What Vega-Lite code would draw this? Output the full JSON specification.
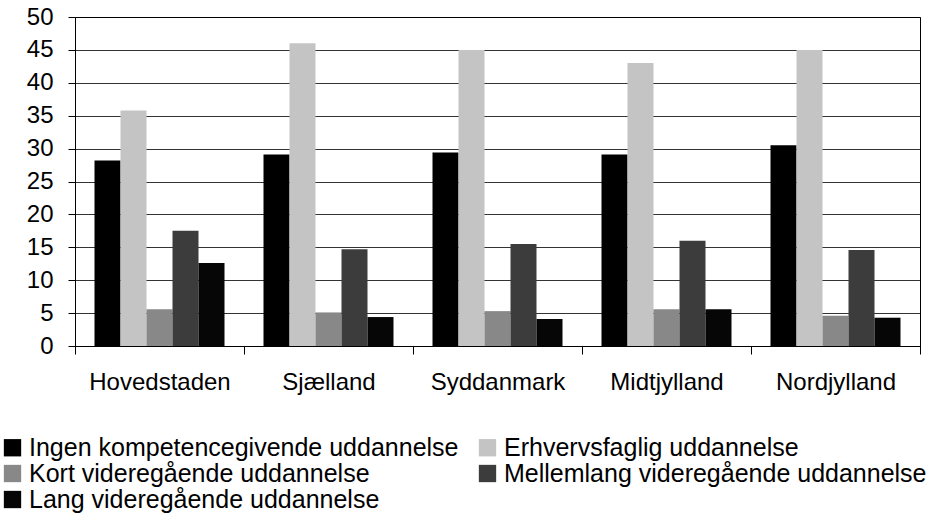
{
  "$schema": "https://vega.github.io/schema/vega-lite/v6.json",
  "width": 845,
  "height": 329,
  "autosize": {"type": "none"},
  "padding": {"left": 75, "top": 17, "right": 14, "bottom": 167},
  "background": "white",
  "data": {
    "values": [
      {"region": "Hovedstaden", "type": "Ingen kompetencegivende uddannelse", "value": 28.2},
      {"region": "Hovedstaden", "type": "Erhvervsfaglig uddannelse", "value": 35.8},
      {"region": "Hovedstaden", "type": "Kort videregående uddannelse", "value": 5.6},
      {"region": "Hovedstaden", "type": "Mellemlang videregående uddannelse", "value": 17.5},
      {"region": "Hovedstaden", "type": "Lang videregående uddannelse", "value": 12.6},
      {"region": "Sjælland", "type": "Ingen kompetencegivende uddannelse", "value": 29.1},
      {"region": "Sjælland", "type": "Erhvervsfaglig uddannelse", "value": 46.0},
      {"region": "Sjælland", "type": "Kort videregående uddannelse", "value": 5.1},
      {"region": "Sjælland", "type": "Mellemlang videregående uddannelse", "value": 14.7},
      {"region": "Sjælland", "type": "Lang videregående uddannelse", "value": 4.4},
      {"region": "Syddanmark", "type": "Ingen kompetencegivende uddannelse", "value": 29.4},
      {"region": "Syddanmark", "type": "Erhvervsfaglig uddannelse", "value": 45.0},
      {"region": "Syddanmark", "type": "Kort videregående uddannelse", "value": 5.3},
      {"region": "Syddanmark", "type": "Mellemlang videregående uddannelse", "value": 15.5},
      {"region": "Syddanmark", "type": "Lang videregående uddannelse", "value": 4.1},
      {"region": "Midtjylland", "type": "Ingen kompetencegivende uddannelse", "value": 29.1},
      {"region": "Midtjylland", "type": "Erhvervsfaglig uddannelse", "value": 43.0},
      {"region": "Midtjylland", "type": "Kort videregående uddannelse", "value": 5.6},
      {"region": "Midtjylland", "type": "Mellemlang videregående uddannelse", "value": 16.0},
      {"region": "Midtjylland", "type": "Lang videregående uddannelse", "value": 5.6},
      {"region": "Nordjylland", "type": "Ingen kompetencegivende uddannelse", "value": 30.5},
      {"region": "Nordjylland", "type": "Erhvervsfaglig uddannelse", "value": 45.0},
      {"region": "Nordjylland", "type": "Kort videregående uddannelse", "value": 4.6},
      {"region": "Nordjylland", "type": "Mellemlang videregående uddannelse", "value": 14.6},
      {"region": "Nordjylland", "type": "Lang videregående uddannelse", "value": 4.3}
    ]
  },
  "mark": {"type": "bar"},
  "encoding": {
    "x": {
      "field": "region",
      "type": "nominal",
      "sort": ["Hovedstaden", "Sjælland", "Syddanmark", "Midtjylland", "Nordjylland"],
      "scale": {"paddingInner": 0, "paddingOuter": 0},
      "axis": {
        "title": null,
        "labelAngle": 0,
        "labelFont": "Liberation Sans",
        "labelFontSize": 24,
        "labelColor": "black",
        "tickBand": "extent",
        "tickSize": 8,
        "tickColor": "black",
        "domainColor": "black",
        "labelPadding": 16,
        "grid": false
      }
    },
    "xOffset": {
      "field": "type",
      "sort": ["Ingen kompetencegivende uddannelse", "Erhvervsfaglig uddannelse", "Kort videregående uddannelse", "Mellemlang videregående uddannelse", "Lang videregående uddannelse"],
      "scale": {"paddingInner": 0, "paddingOuter": 0.75}
    },
    "y": {
      "field": "value",
      "type": "quantitative",
      "scale": {"domain": [0, 50], "nice": false},
      "axis": {
        "title": null,
        "values": [0, 5, 10, 15, 20, 25, 30, 35, 40, 45, 50],
        "grid": true,
        "gridColor": "black",
        "gridOpacity": 0.8,
        "tickColor": "black",
        "tickSize": 7,
        "labelPadding": 15,
        "labelFont": "Liberation Sans",
        "labelFontSize": 24,
        "labelColor": "black",
        "domainColor": "black"
      }
    },
    "color": {
      "field": "type",
      "type": "nominal",
      "scale": {
        "domain": ["Ingen kompetencegivende uddannelse", "Erhvervsfaglig uddannelse", "Kort videregående uddannelse", "Mellemlang videregående uddannelse", "Lang videregående uddannelse"],
        "range": ["#000000", "#c4c4c4", "#888888", "#3c3c3c", "#060606"]
      },
      "legend": {
        "title": null,
        "orient": "none",
        "legendX": -75,
        "legendY": 418,
        "direction": "horizontal",
        "columns": 2,
        "symbolType": "square",
        "symbolSize": 300,
        "symbolStrokeWidth": 0,
        "labelFont": "Liberation Sans",
        "labelFontSize": 25,
        "labelColor": "black",
        "labelLimit": 600,
        "labelOffset": 4,
        "rowPadding": -8,
        "columnPadding": 16
      }
    }
  },
  "config": {"view": {"stroke": "black", "strokeWidth": 1}}
}
